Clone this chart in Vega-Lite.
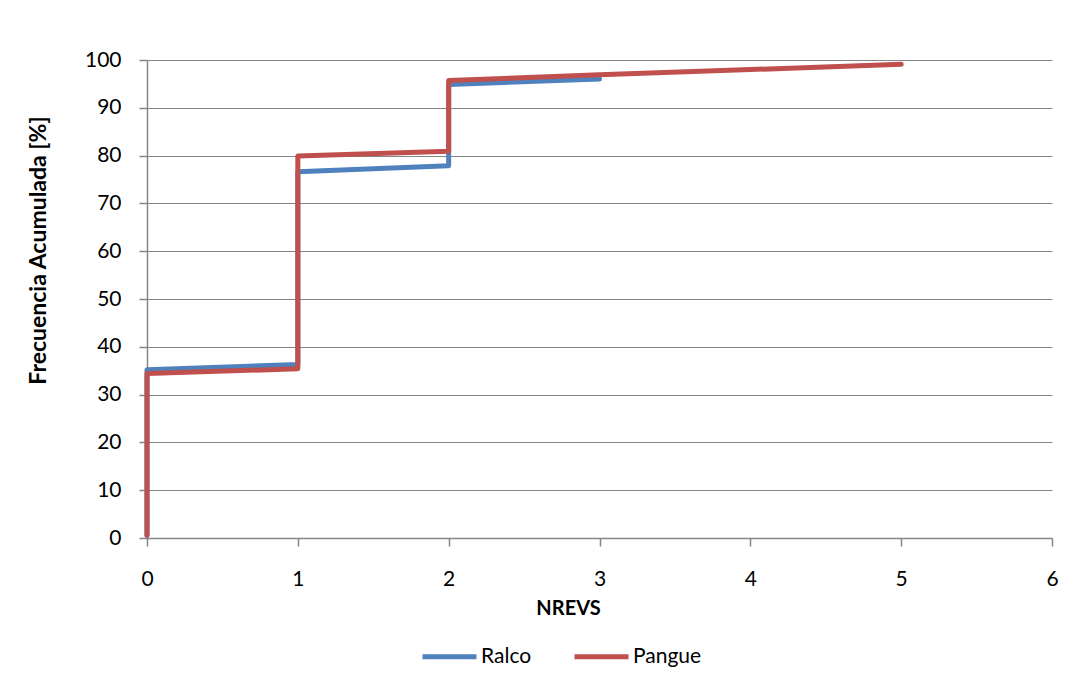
{
  "$schema": "https://vega.github.io/schema/vega-lite/v6.json",
  "width": 905,
  "height": 478,
  "autosize": "none",
  "padding": {"left": 147, "top": 60, "right": 35, "bottom": 139},
  "background": "white",
  "config": {
    "font": "Lato",
    "view": {"stroke": null},
    "axis": {
      "labelFont": "Lato",
      "labelFontSize": 21,
      "labelColor": "#000000",
      "titleFont": "Lato",
      "titleFontSize": 20,
      "titleFontWeight": "bold",
      "titleColor": "#000000",
      "domainColor": "#868686",
      "tickColor": "#868686",
      "gridColor": "#868686",
      "domainWidth": 1.5,
      "tickWidth": 1.5,
      "gridWidth": 1.2
    }
  },
  "data": {
    "values": [
      {"serie": "Ralco", "k": 1, "nrevs": 0, "frec": 0.6},
      {"serie": "Ralco", "k": 2, "nrevs": 0, "frec": 35.2},
      {"serie": "Ralco", "k": 3, "nrevs": 1, "frec": 36.3},
      {"serie": "Ralco", "k": 4, "nrevs": 1, "frec": 76.6},
      {"serie": "Ralco", "k": 5, "nrevs": 2, "frec": 77.9},
      {"serie": "Ralco", "k": 6, "nrevs": 2, "frec": 94.9},
      {"serie": "Ralco", "k": 7, "nrevs": 3, "frec": 96.0},
      {"serie": "Pangue", "k": 1, "nrevs": 0, "frec": 0.6},
      {"serie": "Pangue", "k": 2, "nrevs": 0, "frec": 34.4},
      {"serie": "Pangue", "k": 3, "nrevs": 1, "frec": 35.4},
      {"serie": "Pangue", "k": 4, "nrevs": 1, "frec": 79.9},
      {"serie": "Pangue", "k": 5, "nrevs": 2, "frec": 80.9},
      {"serie": "Pangue", "k": 6, "nrevs": 2, "frec": 95.7},
      {"serie": "Pangue", "k": 7, "nrevs": 3, "frec": 96.9},
      {"serie": "Pangue", "k": 8, "nrevs": 4, "frec": 98.0},
      {"serie": "Pangue", "k": 9, "nrevs": 5, "frec": 99.1}
    ]
  },
  "mark": {"type": "line", "strokeWidth": 5, "strokeCap": "round", "strokeJoin": "round"},
  "encoding": {
    "x": {
      "field": "nrevs",
      "type": "quantitative",
      "title": "NREVS",
      "scale": {"domain": [0, 6], "nice": false, "zero": true},
      "axis": {"values": [0, 1, 2, 3, 4, 5, 6], "grid": false, "tickSize": 8, "labelPadding": 22, "labelFlush": false, "labelBound": false, "titlePadding": 9, "titleX": 421, "format": "d"}
    },
    "y": {
      "field": "frec",
      "type": "quantitative",
      "title": "Frecuencia Acumulada [%]",
      "scale": {"domain": [0, 100], "nice": false},
      "axis": {"values": [0, 10, 20, 30, 40, 50, 60, 70, 80, 90, 100], "grid": true, "tickSize": 8, "labelPadding": 18, "labelFlush": false, "titlePadding": 34, "titleY": 190, "titleFontSize": 23}
    },
    "color": {
      "field": "serie",
      "type": "nominal",
      "sort": ["Ralco", "Pangue"],
      "scale": {"domain": ["Ralco", "Pangue"], "range": ["#4F81BD", "#C0504D"]},
      "legend": {
        "title": null,
        "orient": "none",
        "legendX": 273,
        "legendY": 567,
        "direction": "horizontal",
        "symbolType": "stroke",
        "symbolSize": 2916,
        "symbolStrokeWidth": 5,
        "labelFontSize": 21,
        "labelFont": "Lato",
        "labelColor": "#000000",
        "labelOffset": 2,
        "columnPadding": 32
      }
    },
    "detail": {"field": "serie"},
    "order": {"field": "k", "type": "quantitative"}
  }
}
